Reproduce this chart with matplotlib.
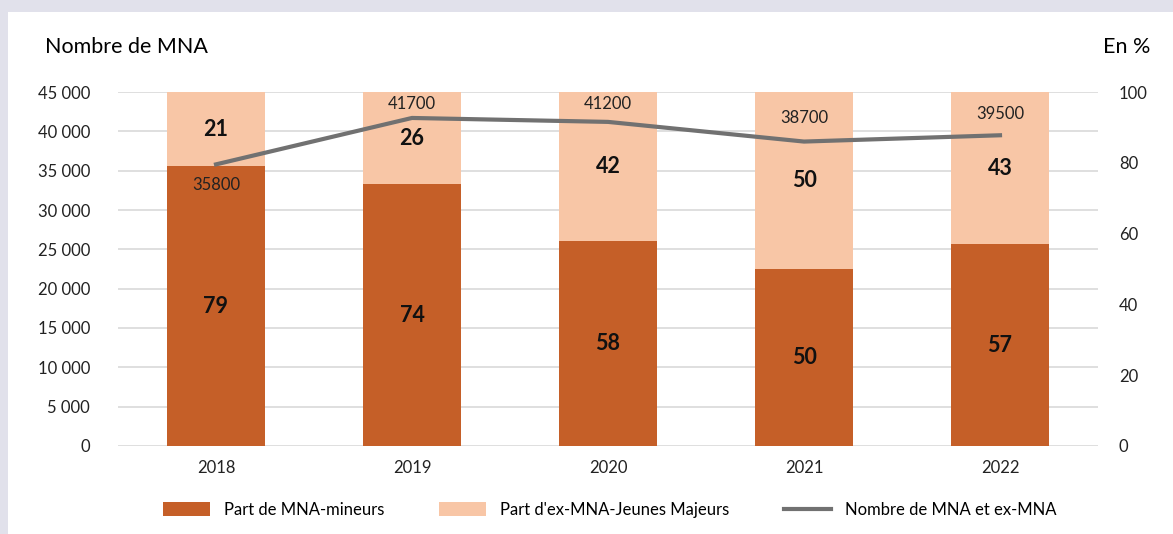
import matplotlib.pyplot as plt
import numpy as np

plt.rcParams['font.family'] = ['Lato', 'DejaVu Sans']

# data
years = ['2018', '2019', '2020', '2021', '2022']
part_mineurs = [79, 74, 58, 50, 57]
part_majeurs = [21, 26, 42, 50, 43]
nombre_mna = [35800, 41700, 41200, 38700, 39500]

c_dark = '#C55F28'
c_light = '#F8C6A6'
c_line = '#717171'

fig = plt.figure(figsize=(11.73, 5.34), dpi=100)
fig.patch.set_facecolor('#E1E1EB')
# white panel behind everything
panel = plt.Rectangle((8 / 1173, 0), 1, 1 - 12 / 534, transform=fig.transFigure,
                      facecolor='white', edgecolor='none', zorder=-10)
fig.patches.append(panel)

rect = [118 / 1173, 88 / 534, 980 / 1173, 354 / 534]
ax = fig.add_axes(rect)
ax.set_facecolor('none')
ax2 = ax.twinx()

x = np.arange(len(years))

# bars on right (percent) axis
ax2.bar(x, part_mineurs, width=0.5, color=c_dark, label='Part de MNA-mineurs', zorder=2)
ax2.bar(x, part_majeurs, width=0.5, bottom=part_mineurs, color=c_light,
        label="Part d'ex-MNA-Jeunes Majeurs", zorder=2)
for i in range(len(years)):
    ax2.text(x[i], part_mineurs[i] / 2, str(part_mineurs[i]), ha='center', va='center',
             fontsize=15.5, fontweight='bold', color='#111111', zorder=4)
    ax2.text(x[i], part_mineurs[i] + part_majeurs[i] / 2, str(part_majeurs[i]), ha='center',
             va='center', fontsize=15.5, fontweight='bold', color='#111111', zorder=4)
ax2.set_ylim(0, 100)
ax2.set_yticks([0, 20, 40, 60, 80, 100])

# line on its own overlay axes with the left-axis scale
ax3 = fig.add_axes(rect)
ax3.set_ylim(0, 45000)
ax3.set_xlim(-0.5, 4.5)
ax3.plot(x, nombre_mna, color=c_line, linewidth=3, label='Nombre de MNA et ex-MNA')
label_dy = [-15, 10, 13, 17, 15]
for i, v in enumerate(nombre_mna):
    ax3.annotate(str(v), (x[i], v), xytext=(0, label_dy[i]), textcoords='offset points',
                 ha='center', va='center', fontsize=12, color='#222222')
ax3.axis('off')

ax.set_ylim(0, 45000)
ax.set_yticks(range(0, 45001, 5000))
ax.set_yticklabels(['0'] + ['{:,}'.format(v).replace(',', ' ') for v in range(5000, 45001, 5000)])
ax.set_xlim(-0.5, 4.5)
ax2.set_xlim(-0.5, 4.5)
ax.set_xticks(x)
ax.set_xticklabels(years)
ax.grid(axis='y', color='#D9D9D9', linewidth=1.2)
ax.set_axisbelow(True)
ax2.patch.set_visible(False)

for a in (ax, ax2):
    for s in a.spines.values():
        s.set_visible(False)
ax.tick_params(length=0, labelsize=12, colors='#222222', pad=20)
ax.tick_params(axis='x', pad=10)
ax2.tick_params(length=0, labelsize=12, colors='#222222', pad=15)

fig.text(45 / 1173, 1 - 47 / 534, 'Nombre de MNA', fontsize=15.5, va='center', ha='left')
fig.text(1103 / 1173, 1 - 47 / 534, 'En %', fontsize=15.5, va='center', ha='left')

h1, l1 = ax2.get_legend_handles_labels()
h2, l2 = ax3.get_legend_handles_labels()
fig.legend(h1 + h2, l1 + l2, loc='center', bbox_to_anchor=(0.52, 0.045), ncol=3,
           frameon=False, fontsize=12, handlelength=2.8, handleheight=0.9,
           handletextpad=0.85, columnspacing=3.3)

fig.savefig('out.png', dpi=100)
